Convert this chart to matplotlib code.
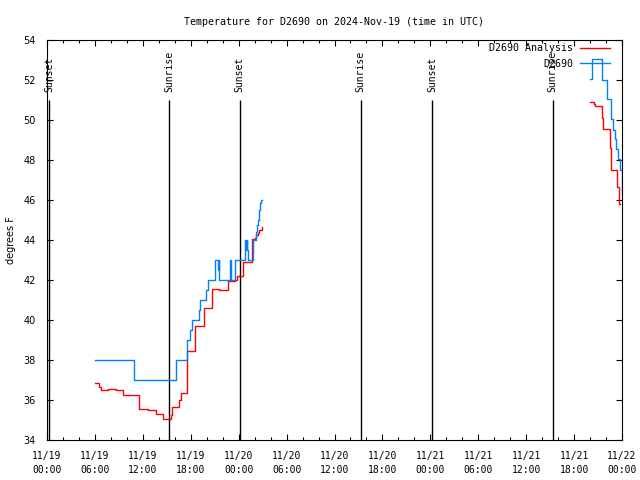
import matplotlib
matplotlib.use("Agg")
import matplotlib.pyplot as plt
from matplotlib.ticker import MultipleLocator

# hours since 2024-11-19 00:00 UTC
obs_hours = [6.0, 10.9, 16.1, 16.2, 17.56, 17.9, 18.1, 19.05, 19.2, 19.9, 20.1,
             21.07, 21.45, 21.5, 21.55, 21.57, 22.95, 23.05, 23.57, 24.82, 24.9,
             25.0, 25.05, 25.2, 25.83, 26.12, 26.24, 26.37, 26.53, 26.66, 26.78, 26.9]
obs_temp = [38.0, 37.0, 37.5, 38.0, 39.0, 39.5, 40.0, 40.5, 41.0, 41.5, 42.0,
            43.0, 42.5, 43.0, 42.5, 42.0, 43.0, 42.0, 43.0, 44.0, 43.5,
            44.0, 43.5, 43.0, 44.0, 44.4, 44.75, 45.0, 45.5, 45.83, 46.0, 46.0]

obs2_hours = [68.0, 68.2, 69.5, 70.1, 70.67, 70.9, 71.15, 71.3, 71.55, 71.8, 71.95, 72.0]
obs2_temp = [52.03, 53.03, 52.0, 51.03, 50.03, 49.5, 49.03, 48.53, 48.03, 47.5, 46.3, 46.3]

ana_hours = [6.0, 6.55, 6.72, 7.63, 8.64, 9.55, 11.55, 12.68, 13.64, 14.56, 15.48,
             15.68, 16.56, 16.73, 17.56, 18.56, 19.61, 20.61, 21.57, 22.61, 23.6,
             23.74, 24.57, 25.62, 26.0, 26.2, 26.4, 26.6, 26.87]
ana_temp = [36.87, 36.67, 36.48, 36.53, 36.48, 36.25, 35.53, 35.5, 35.3, 35.05, 35.25,
            35.63, 36.0, 36.33, 38.43, 39.7, 40.62, 41.53, 41.48, 41.93, 42.0,
            42.18, 42.9, 44.03, 44.1, 44.25, 44.35, 44.48, 44.63]

ana2_hours = [68.0, 68.5, 68.62, 69.54, 69.67, 70.55, 70.67, 71.42, 71.63, 71.8]
ana2_temp = [50.9, 50.8, 50.7, 50.08, 49.53, 48.58, 47.5, 46.67, 45.8, 45.8]

sun_hours = [0.25, 15.27, 24.15, 39.3, 48.2, 63.3]
sun_labels = ["Sunset", "Sunrise", "Sunset", "Sunrise", "Sunset", "Sunrise"]

tick_hours = list(range(0, 73, 6))
tick_labels = ["11/19\n00:00", "11/19\n06:00", "11/19\n12:00", "11/19\n18:00",
               "11/20\n00:00", "11/20\n06:00", "11/20\n12:00", "11/20\n18:00",
               "11/21\n00:00", "11/21\n06:00", "11/21\n12:00", "11/21\n18:00",
               "11/22\n00:00"]

MONO = "DejaVu Sans Mono"

fig = plt.figure(figsize=(6.4, 4.8), dpi=100)
ax = fig.add_axes([47 / 640, 40 / 480, 575 / 640, 400 / 480])

# sunrise / sunset markers
for h, lab in zip(sun_hours, sun_labels):
    ax.vlines(h, 34, 51.0, color="black", linewidth=1.0)
    ax.text(h, 51.4, lab, rotation=90, ha="center", va="bottom",
            fontsize=7, family=MONO)

ax.plot(ana_hours, ana_temp, drawstyle="steps-post", color="#ff0000",
        linewidth=1.0, label="D2690 Analysis")
ax.plot(ana2_hours, ana2_temp, drawstyle="steps-post", color="#ff0000", linewidth=1.0)
ax.plot(obs_hours, obs_temp, drawstyle="steps-post", color="#0080ff",
        linewidth=1.0, label="D2690")
ax.plot(obs2_hours, obs2_temp, drawstyle="steps-post", color="#0080ff", linewidth=1.0)

ax.set_xlim(0, 72)
ax.set_ylim(34, 54)
ax.set_xticks(tick_hours)
ax.set_xticklabels(tick_labels, family=MONO, fontsize=7, linespacing=1.5)
ax.xaxis.set_minor_locator(MultipleLocator(2))
ax.set_yticks(range(34, 55, 2))
ax.tick_params(axis="y", labelsize=7, pad=8)
ax.tick_params(axis="x", pad=8)
ax.tick_params(which="both", direction="in", top=True, right=True)
ax.tick_params(which="major", length=4, width=0.8)
ax.tick_params(which="minor", length=2, width=0.8)
for s in ax.spines.values():
    s.set_linewidth(0.8)

ax.set_ylabel("degrees F", fontsize=7, labelpad=5)
ax.set_title("Temperature for D2690 on 2024-Nov-19 (time in UTC)",
             family=MONO, fontsize=7.2, pad=11)

leg = ax.legend(loc="upper right", bbox_to_anchor=(0.986, 1.002), frameon=False,
                markerfirst=False, prop={"family": MONO, "size": 7.2},
                handlelength=3.0, labelspacing=0.55, borderaxespad=0.0,
                handletextpad=0.7)

fig.savefig("out.png", dpi=100)
